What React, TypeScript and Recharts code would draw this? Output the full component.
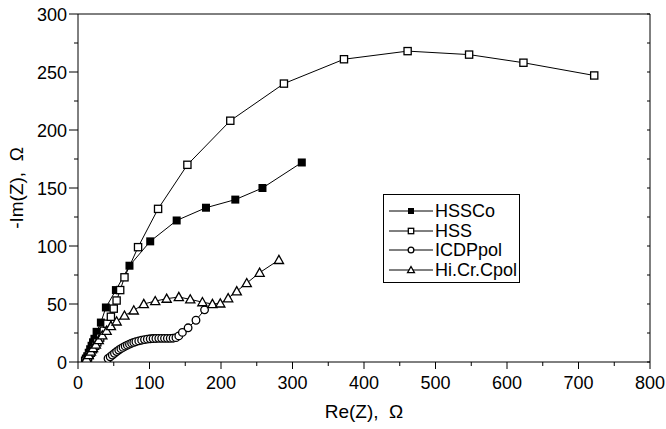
import React from 'react'
import { ScatterChart, Scatter, XAxis, YAxis } from 'recharts'

// Nyquist data: Re(Z) and -Im(Z), ohm
const hssCoRe = [10, 11, 13, 15, 17, 19, 21, 23, 26, 32, 39, 53, 72, 101, 138, 179, 220, 258, 313]
const hssCoIm = [1, 3, 5, 8, 11, 14, 17, 20, 26, 34, 47, 62, 83, 104, 122, 133, 140, 150, 172]

const hssRe = [10, 12, 14, 16, 18, 21, 24, 27, 31, 36, 41, 46, 50, 54, 59, 65, 84, 112, 153, 213, 288, 372, 461, 547, 623, 722]
const hssIm = [1, 2, 4, 6, 8, 11, 14, 17, 21, 27, 33, 39, 46, 53, 62, 73, 99, 132, 170, 208, 240, 261, 268, 265, 258, 247]

const icdpRe = [42, 45, 48, 51, 54, 57, 60, 63, 66, 69, 72, 75, 78, 81, 85, 89, 93, 97, 101, 105, 109, 113, 117, 121, 125, 129, 133, 137, 141, 146, 154, 165, 177]
const icdpIm = [3, 4.5, 6, 7.5, 9, 10.3, 11.5, 12.6, 13.6, 14.5, 15.4, 16.2, 16.9, 17.5, 18.2, 18.8, 19.3, 19.7, 20, 20.2, 20.3, 20.4, 20.4, 20.4, 20.4, 20.4, 20.5, 21, 22.5, 25.5, 29.5, 36, 45]

const hiCrRe = [10, 12, 15, 18, 21, 25, 29, 34, 40, 46, 54, 65, 78, 92, 108, 124, 141, 157, 174, 188, 199, 210, 222, 236, 254, 281]
const hiCrIm = [1, 3, 6, 9, 12, 15, 19, 23, 27, 31, 35, 40, 44.5, 50, 52.5, 54.6, 56, 54, 51.6, 50, 50.5, 55, 61, 68, 77, 88]

const xTicks = [0, 50, 100, 150, 200, 250, 300, 350, 400, 450, 500, 550, 600, 650, 700, 750, 800]
const yTicks = [0, 25, 50, 75, 100, 125, 150, 175, 200, 225, 250, 275, 300]

const FONT = '"Liberation Sans", Arial, sans-serif'

const toPoints = (re: number[], im: number[]) => re.map((x, i) => ({ x, y: im[i] }))

type Kind = 'filledSquare' | 'square' | 'circle' | 'triangle'

const Marker = ({ kind, cx, cy, s = 1 }: { kind: Kind; cx: number; cy: number; s?: number }) => {
  if (kind === 'filledSquare') {
    const h = 4 * s
    return <rect x={cx - h} y={cy - h} width={2 * h} height={2 * h} fill="#000" />
  }
  if (kind === 'square') {
    const h = 3.6 * s
    return <rect x={cx - h} y={cy - h} width={2 * h} height={2 * h} fill="#fff" stroke="#000" strokeWidth={1.3} />
  }
  if (kind === 'circle') {
    return <circle cx={cx} cy={cy} r={3.8 * s} fill="#fff" stroke="#000" strokeWidth={1.3} />
  }
  const w = 4.6 * s
  const pts = `${cx},${cy - 4.6 * s} ${cx + w},${cy + 3.6 * s} ${cx - w},${cy + 3.6 * s}`
  return <polygon points={pts} fill="#fff" stroke="#000" strokeWidth={1.3} />
}

const series: { name: string; kind: Kind; data: { x: number; y: number }[] }[] = [
  { name: 'HSSCo', kind: 'filledSquare', data: toPoints(hssCoRe, hssCoIm) },
  { name: 'HSS', kind: 'square', data: toPoints(hssRe, hssIm) },
  { name: 'ICDPpol', kind: 'circle', data: toPoints(icdpRe, icdpIm) },
  { name: 'Hi.Cr.Cpol', kind: 'triangle', data: toPoints(hiCrRe, hiCrIm) },
]

const BottomTick = (props: any) => {
  const { x, y, payload } = props
  const major = payload.value % 100 === 0
  return (
    <g>
      <line x1={x} y1={y} x2={x} y2={y + (major ? 7 : 4)} stroke="#000" />
      {major && (
        <text x={x} y={y + 27} textAnchor="middle" fontSize={18} fontFamily={FONT} fill="#000">
          {payload.value}
        </text>
      )}
    </g>
  )
}

const LeftTick = (props: any) => {
  const { x, y, payload } = props
  const major = payload.value % 50 === 0
  return (
    <g>
      <line x1={x} y1={y} x2={x - (major ? 9 : 4)} y2={y} stroke="#000" />
      {major && (
        <text x={x - 11} y={y + 6.5} textAnchor="end" fontSize={18} fontFamily={FONT} fill="#000">
          {payload.value}
        </text>
      )}
    </g>
  )
}

const TopTick = (props: any) => {
  const { x, y } = props
  return <line x1={x} y1={y} x2={x} y2={y + 3} stroke="#000" />
}

const RightTick = (props: any) => {
  const { x, y } = props
  return <line x1={x} y1={y} x2={x - 3} y2={y} stroke="#000" />
}

const LegendBox = () => (
  <div
    style={{
      position: 'absolute',
      left: 383,
      top: 194,
      width: 137,
      height: 89,
      border: '1px solid #000',
      background: '#fff',
      boxSizing: 'border-box',
      fontFamily: FONT,
      fontSize: 18,
    }}
  >
    {series.map((s, i) => (
      <div key={s.name} style={{ position: 'absolute', left: 5, top: 6 + i * 19.5, height: 20, display: 'flex', alignItems: 'center' }}>
        <svg width={44} height={20}>
          <line x1={0} y1={10} x2={44} y2={10} stroke="#000" />
          <Marker kind={s.kind} cx={22} cy={10} s={0.75} />
        </svg>
        <span style={{ marginLeft: 2, lineHeight: '20px' }}>{s.name}</span>
      </div>
    ))}
  </div>
)

export default function App() {
  return (
    <div style={{ position: 'absolute', left: 0, top: 0, width: 666, height: 429, background: '#fff' }}>
      <ScatterChart width={666} height={429} margin={{ top: 0, right: 0, bottom: 0, left: 0 }}>
        <XAxis
          type="number"
          dataKey="x"
          domain={[0, 800]}
          ticks={xTicks}
          interval={0}
          allowDataOverflow
          height={67}
          tickSize={0}
          tickMargin={0}
          tickLine={false}
          tick={<BottomTick />}
          axisLine={{ stroke: '#000' }}
          label={{ value: 'Re(Z),\u00a0\u00a0Ω', position: 'insideBottom', offset: 11, fontSize: 19, fontFamily: FONT, fill: '#000' }}
        />
        <XAxis
          xAxisId="top"
          orientation="top"
          type="number"
          domain={[0, 800]}
          ticks={xTicks}
          interval={0}
          allowDataOverflow
          height={14}
          tickSize={0}
          tickMargin={0}
          tickLine={false}
          tick={<TopTick />}
          axisLine={{ stroke: '#000' }}
        />
        <YAxis
          type="number"
          dataKey="y"
          domain={[0, 300]}
          ticks={yTicks}
          interval={0}
          allowDataOverflow
          width={78}
          tickSize={0}
          tickMargin={0}
          tickLine={false}
          tick={<LeftTick />}
          axisLine={{ stroke: '#000' }}
          label={{
            value: '-Im(Z),\u00a0\u00a0Ω',
            angle: -90,
            position: 'insideLeft',
            offset: 16,
            fontSize: 19,
            fontFamily: FONT,
            fill: '#000',
            style: { textAnchor: 'middle' },
          }}
        />
        <YAxis
          yAxisId="right"
          orientation="right"
          type="number"
          domain={[0, 300]}
          ticks={yTicks}
          interval={0}
          allowDataOverflow
          width={16}
          tickSize={0}
          tickMargin={0}
          tickLine={false}
          tick={<RightTick />}
          axisLine={{ stroke: '#000' }}
        />
        {series.map((s) => (
          <Scatter
            key={s.name}
            name={s.name}
            data={s.data}
            line={{ stroke: '#000', strokeWidth: 1 }}
            shape={(p: any) => <Marker kind={s.kind} cx={p.cx} cy={p.cy} />}
            isAnimationActive={false}
          />
        ))}
      </ScatterChart>
      <LegendBox />
    </div>
  )
}
